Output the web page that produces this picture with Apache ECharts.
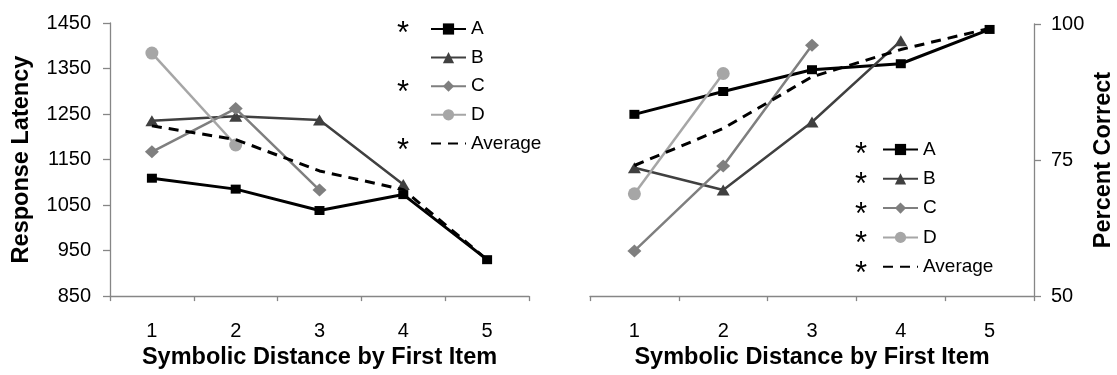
<!DOCTYPE html>
<html>
<head>
<meta charset="utf-8">
<script src="https://cdn.jsdelivr.net/npm/echarts@6/dist/echarts.min.js"></script>
<style>
  html, body { margin: 0; padding: 0; background: #fff; }
  #chart { width: 1117px; height: 375px; }
</style>
</head>
<body>
<div id="chart"></div>
<script>
// Symbolic distance categories (first item)
const distances = ['1', '2', '3', '4', '5'];
const seriesNames = ['A', 'B', 'C', 'D', 'Average'];

// Response latency by series
const latencyA = [1109, 1085, 1038, 1073, 930];
const latencyB = [1235, 1245, 1237, 1095, null];
const latencyC = [1167, 1262, 1083, null, null];
const latencyD = [1384, 1182, null, null, null];
const latencyAvg = [1224, 1194, 1125, 1084, 930];

// Percent correct by series
const correctA = [83.4, 87.6, 91.6, 92.7, 99.0];
const correctB = [73.6, 69.5, 82.0, 96.9, null];
const correctC = [58.3, 73.9, 96.1, null, null];
const correctD = [68.8, 90.9, null, null, null];
const correctAvg = [74.0, 80.8, 90.3, 95.3, 99.2];

// Series flagged with an asterisk in each legend
const latencyStars = ['A', 'C', 'Average'];
const correctStars = ['A', 'B', 'C', 'D', 'Average'];

const FONT = "'Liberation Sans', Arial, sans-serif";
const AXIS_GRAY = '#868686';

const styles = {
  A: { color: '#000000', symbol: 'rect', symbolSize: [10, 9], width: 3 },
  B: { color: '#404040', symbol: 'triangle', symbolSize: [13, 11], width: 2.5 },
  C: { color: '#7f7f7f', symbol: 'diamond', symbolSize: [14, 13], width: 2.5 },
  D: { color: '#a6a6a6', symbol: 'circle', symbolSize: 13, width: 2.5 },
  Average: { color: '#000000', symbol: 'none', symbolSize: 0, width: 3, dashed: true }
};

function makeSeries(name, data, idx) {
  const s = styles[name];
  return {
    name: name,
    type: 'line',
    xAxisIndex: idx,
    yAxisIndex: idx,
    data: data,
    symbol: s.symbol,
    symbolSize: s.symbolSize,
    showSymbol: s.symbol !== 'none',
    itemStyle: { color: s.color },
    lineStyle: {
      color: s.color,
      width: s.width,
      type: s.dashed ? [10, 7] : 'solid'
    },
    emphasis: { disabled: true },
    z: s.dashed ? 3 : 2
  };
}

function xAxisFor(idx) {
  return {
    type: 'category',
    gridIndex: idx,
    data: distances,
    boundaryGap: true,
    axisLine: { lineStyle: { color: AXIS_GRAY, width: 1.3 } },
    axisTick: { show: true, length: 5, lineStyle: { color: AXIS_GRAY, width: 1.3 } },
    axisLabel: { color: '#000', fontSize: 20, fontFamily: FONT, margin: 25 },
    name: 'Symbolic Distance by First Item',
    nameLocation: 'middle',
    nameGap: 48,
    nameTextStyle: { color: '#000', fontSize: 23.5, fontWeight: 'bold', fontFamily: FONT },
    splitLine: { show: false }
  };
}

// Legend entries: the dashed average shows only its line
const legendData = seriesNames.map(n => n === 'Average'
  ? { name: n, itemStyle: { opacity: 0 } }
  : { name: n });

function legendFor(left, top, gap) {
  return {
    orient: 'vertical',
    left: left,
    top: top,
    padding: 0,
    itemWidth: 35,
    itemHeight: 14,
    itemGap: gap,
    data: legendData,
    textStyle: { color: '#000', fontSize: 19, fontFamily: FONT },
    selectedMode: false
  };
}

function starGraphics(stars, x, firstCenter, step) {
  return seriesNames.map((n, i) => stars.includes(n) ? {
    type: 'text',
    left: x,
    top: firstCenter + i * step - 10,
    style: { text: '*', fontSize: 31, fontFamily: FONT, fill: '#000' },
    silent: true
  } : null).filter(Boolean);
}

const chart = echarts.init(document.getElementById('chart'), null, { renderer: 'canvas' });

chart.setOption({
  animation: false,
  backgroundColor: '#ffffff',
  textStyle: { fontFamily: FONT },
  grid: [
    { left: 110, top: 23, width: 419, height: 278 },
    { left: 590, top: 24, width: 447, height: 278 }
  ],
  xAxis: [xAxisFor(0), xAxisFor(1)],
  yAxis: [
    {
      type: 'value',
      gridIndex: 0,
      min: 850,
      max: 1450,
      interval: 100,
      axisLine: { show: true, lineStyle: { color: AXIS_GRAY, width: 1.3 } },
      axisTick: { show: true, length: 7, lineStyle: { color: AXIS_GRAY, width: 1.3 } },
      axisLabel: { color: '#000', fontSize: 20, fontFamily: FONT, margin: 19, formatter: v => String(v) },
      splitLine: { show: false },
      name: 'Response Latency',
      nameLocation: 'middle',
      nameGap: 76,
      nameRotate: 90,
      nameTextStyle: { color: '#000', fontSize: 23.5, fontWeight: 'bold', fontFamily: FONT }
    },
    {
      type: 'value',
      gridIndex: 1,
      position: 'right',
      min: 50,
      max: 100,
      interval: 25,
      axisLine: { show: true, lineStyle: { color: AXIS_GRAY, width: 1.3 } },
      axisTick: { show: true, length: 7, lineStyle: { color: AXIS_GRAY, width: 1.3 } },
      axisLabel: { color: '#000', fontSize: 20, fontFamily: FONT, margin: 17, formatter: v => String(v) },
      splitLine: { show: false },
      name: 'Percent Correct',
      nameLocation: 'middle',
      nameGap: 58,
      nameRotate: 90,
      nameTextStyle: { color: '#000', fontSize: 23.5, fontWeight: 'bold', fontFamily: FONT }
    }
  ],
  legend: [
    legendFor(430, 19.5, 9.6),
    legendFor(882, 140, 10.3)
  ],
  graphic: [
    ...starGraphics(latencyStars, 397, 29.3, 29.1),
    ...starGraphics(correctStars, 855, 150, 29.8)
  ],
  series: [
    makeSeries('A', latencyA, 0),
    makeSeries('B', latencyB, 0),
    makeSeries('C', latencyC, 0),
    makeSeries('D', latencyD, 0),
    makeSeries('Average', latencyAvg, 0),
    makeSeries('A', correctA, 1),
    makeSeries('B', correctB, 1),
    makeSeries('C', correctC, 1),
    makeSeries('D', correctD, 1),
    makeSeries('Average', correctAvg, 1)
  ]
});
</script>
</body>
</html>
